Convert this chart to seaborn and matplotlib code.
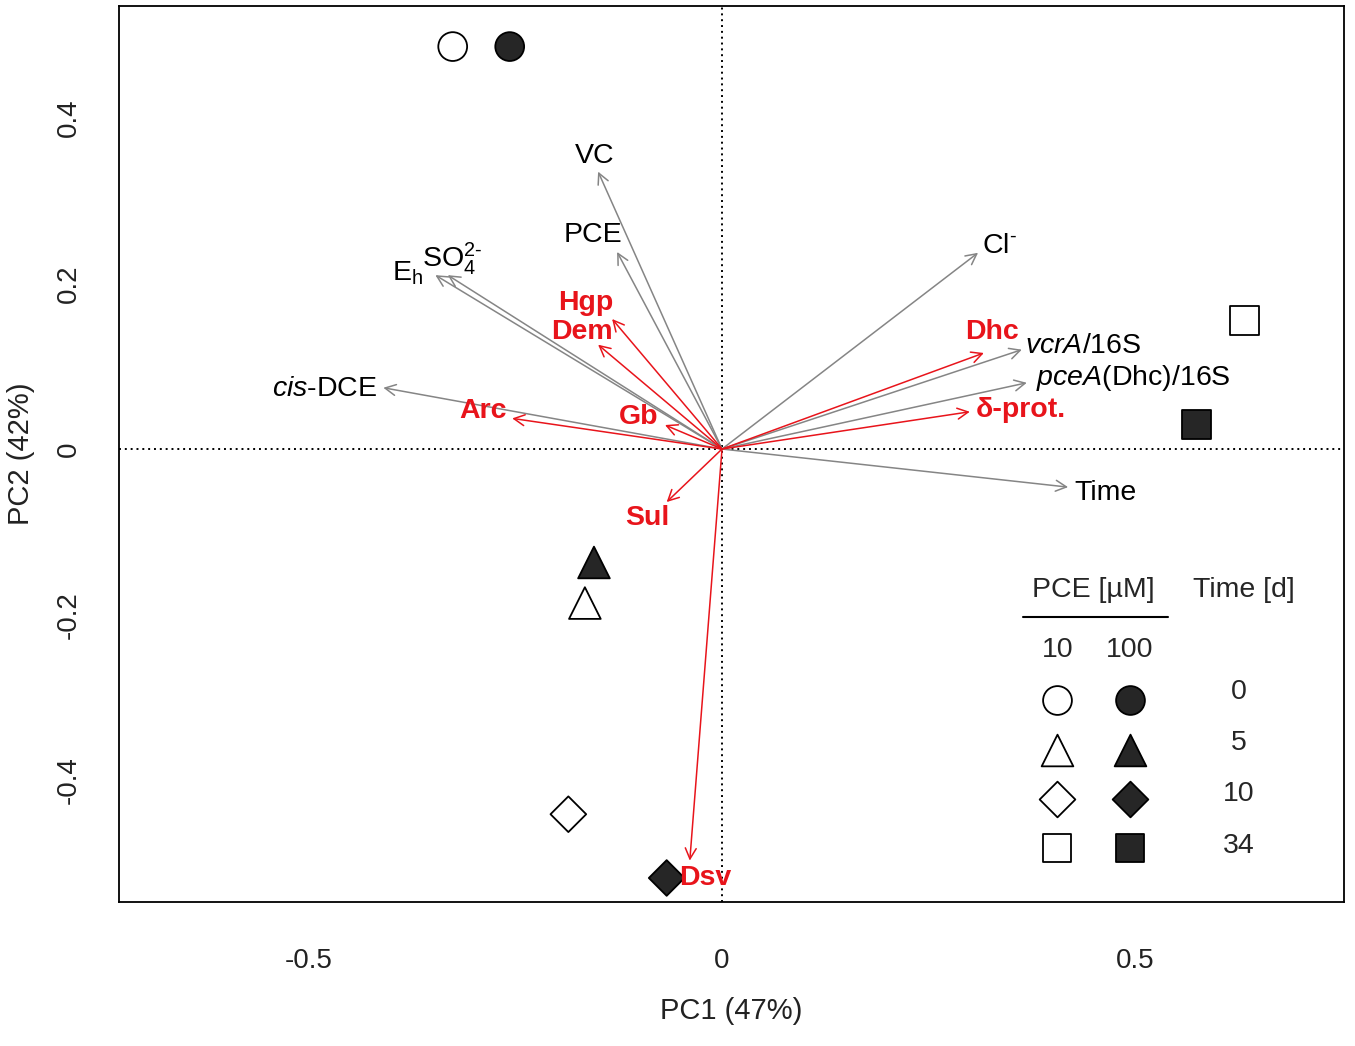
import numpy as np
import pandas as pd
import matplotlib
matplotlib.use("Agg")
import matplotlib.pyplot as plt
import seaborn as sns

# ── sample scores ──
time_d = [0, 0, 5, 5, 10, 10, 34, 34]
pce_um = [10, 100, 10, 100, 10, 100, 10, 100]
pc1    = [-0.326, -0.257, -0.166, -0.155, -0.186, -0.067, 0.633, 0.574]
pc2    = [0.486, 0.486, -0.186, -0.137, -0.441, -0.518, 0.155, 0.030]

# ── loadings: chemistry / genes (grey arrows) ──
env_labels = ["VC", "PCE", r"E$_\mathrm{h}$", r"SO$_4^{2‐}$", r"$\it{cis}$-DCE",
              r"Cl$^{‐}$", r"$\it{vcrA}$/16S", r"$\it{pceA}$(Dhc)/16S", "Time"]
env_pc1 = [-0.150, -0.127, -0.347, -0.332, -0.410, 0.310, 0.363, 0.369, 0.419]
env_pc2 = [0.335, 0.238, 0.210, 0.210, 0.074, 0.237, 0.120, 0.080, -0.046]

# ── loadings: taxa (red arrows) ──
tax_labels = ["Dhc", "δ-prot.", "Hgp", "Dem", "Arc", "Gb", "Sul", "Dsv"]
tax_pc1 = [0.317, 0.300, -0.133, -0.150, -0.254, -0.069, -0.067, -0.039]
tax_pc2 = [0.116, 0.045, 0.157, 0.126, 0.037, 0.029, -0.064, -0.497]

# label placement relative to arrow tip: (dx px, dy px, ha, va)
env_pos = [(-3, 16, "center", "center"), (-24, 17, "center", "center"),
           (-43, -5, "left", "baseline"), (-26, 8, "left", "baseline"),
           (-6, -1, "right", "center"), (4, 0, "left", "baseline"),
           (3, -3, "left", "baseline"), (9, -2, "left", "baseline"),
           (6, -13, "left", "baseline")]
tax_pos = [(8, 21, "center", "center"), (6, 2, "left", "center"),
           (-26, 16, "center", "center"), (-16, 13, "center", "center"),
           (-29, 7, "center", "center"), (-26, 8, "center", "center"),
           (-19, -16, "center", "center"), (15, -17, "center", "center")]

MARKERS = {0: "o", 5: "^", 10: "D", 34: "s"}
SIZES   = {0: 430, 5: 520, 10: 330, 34: 430}
FILL    = {10: "white", 100: "#262626"}
GREY    = "#858585"
RED     = "#e8141b"
FS      = 20.5

sns.set_style("white")
plt.rcParams["font.family"] = ["Liberation Sans", "DejaVu Sans"]
plt.rcParams["mathtext.fontset"] = "custom"
plt.rcParams["mathtext.rm"] = "Liberation Sans"
plt.rcParams["mathtext.it"] = "Liberation Sans:italic"
plt.rcParams["mathtext.bf"] = "Liberation Sans:bold"

df = pd.DataFrame({"pc1": pc1, "pc2": pc2, "time": time_d, "pce": pce_um})

fig = plt.figure(figsize=(13.55, 10.46), dpi=100)
ax = fig.add_axes([119 / 1355, 1 - 902 / 1046, 1225 / 1355, 896 / 1046])

ax.axhline(0, color="black", lw=1.4, ls=(0, (1, 2)), zorder=1)
ax.axvline(0, color="black", lw=1.4, ls=(0, (1, 2)), zorder=1)

for t, m in MARKERS.items():
    sns.scatterplot(data=df[df.time == t], x="pc1", y="pc2", hue="pce",
                    palette=FILL, marker=m, s=SIZES[t], edgecolor="black",
                    linewidth=1.3, legend=False, ax=ax, zorder=3)

def draw_arrows(xs, ys, labels, pos, col, txtcol, weight):
    for x, y, lab, (dx, dy, ha, va) in zip(xs, ys, labels, pos):
        ax.annotate("", xy=(x, y), xytext=(0, 0),
                    arrowprops=dict(arrowstyle="->,head_length=0.55,head_width=0.28",
                                    color=col, lw=1.1, shrinkA=0, shrinkB=0,
                                    mutation_scale=14), zorder=2)
        ax.annotate(lab, xy=(x, y), xytext=(dx, dy), textcoords="offset pixels",
                    ha=ha, va=va, fontsize=FS, color=txtcol, fontweight=weight,
                    zorder=4)

draw_arrows(env_pc1, env_pc2, env_labels, env_pos, GREY, "black", "normal")
draw_arrows(tax_pc1, tax_pc2, tax_labels, tax_pos, RED, RED, "bold")

ax.set_xlim(-0.730, 0.753)
ax.set_ylim(-0.547, 0.535)
ax.set_xticks([-0.5, 0, 0.5])
ax.set_xticklabels(["-0.5", "0", "0.5"])
ax.set_yticks([-0.4, -0.2, 0, 0.2, 0.4])
ax.set_yticklabels(["-0.4", "-0.2", "0", "0.2", "0.4"], rotation=90, va="center")
ax.tick_params(axis="both", direction="out", length=10, width=1.1,
               labelsize=20, color="black", labelcolor="#222222")
ax.tick_params(axis="x", pad=23)
ax.tick_params(axis="y", pad=17)
ax.set_xlabel("PC1 (47%)", fontsize=21, labelpad=17, color="#222222")
ax.set_ylabel("PC2 (42%)", fontsize=21, labelpad=15, color="#222222")
for sp in ax.spines.values():
    sp.set_visible(True)
    sp.set_color("black")
    sp.set_linewidth(1.3)

# ── legend (drawn in axes fraction) ──
leg_times = [0, 5, 10, 34]
leg_rows  = [0.2254, 0.170, 0.115, 0.060]
leg_txt_y = [0.234, 0.177, 0.121, 0.0625]
col_x = {10: 0.766, 100: 0.825}
for t, yr, yt in zip(leg_times, leg_rows, leg_txt_y):
    for p in (10, 100):
        ax.scatter([col_x[p]], [yr], transform=ax.transAxes, marker=MARKERS[t],
                   s=SIZES[t], facecolor=FILL[p], edgecolor="black",
                   linewidth=1.3, zorder=5, clip_on=False)
    ax.text(0.914, yt, str(t), transform=ax.transAxes, ha="center", va="center",
            fontsize=FS)
ax.text(0.795, 0.348, "PCE [µM]", transform=ax.transAxes, ha="center",
        va="center", fontsize=FS)
ax.text(0.918, 0.348, "Time [d]", transform=ax.transAxes, ha="center",
        va="center", fontsize=FS)
ax.plot([0.738, 0.856], [0.318, 0.318], transform=ax.transAxes, color="black",
        lw=1.5)
ax.text(col_x[10], 0.281, "10", transform=ax.transAxes, ha="center",
        va="center", fontsize=FS)
ax.text(col_x[100], 0.281, "100", transform=ax.transAxes, ha="center",
        va="center", fontsize=FS)

fig.savefig("out.png", dpi=100)
